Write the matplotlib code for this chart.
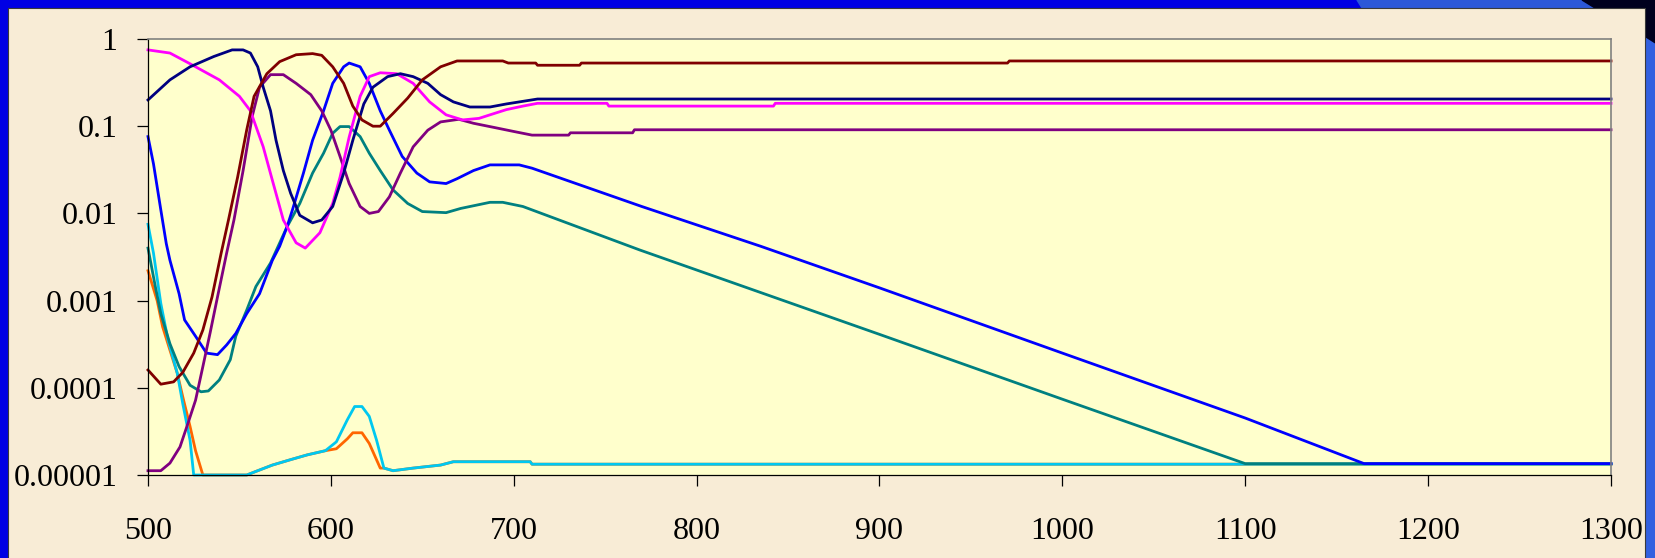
import numpy as np
import matplotlib
matplotlib.use("Agg")
import matplotlib.pyplot as plt
from matplotlib.patches import Rectangle, Polygon

plt.rcParams['font.family'] = ['Liberation Serif', 'DejaVu Serif']

# wavelength (nm) / transmission, one pair per curve
maroon_x = [500, 507, 514, 519, 525, 530, 535, 540, 544, 549, 554, 558, 565, 572, 581, 590, 595,
            601, 607, 612, 617, 623, 627, 634, 642, 650, 660, 669, 694, 697, 712, 713, 736, 737,
            970, 971, 1300]
maroon_y = [1.6e-4, 1.1e-4, 1.17e-4, 1.5e-4, 2.5e-4, 4.6e-4, 1.1e-3, 3.5e-3, 8.4e-3, 0.026, 0.091,
            0.22, 0.40, 0.55, 0.66, 0.68, 0.65, 0.48, 0.31, 0.17, 0.118, 0.10, 0.10, 0.14, 0.21,
            0.34, 0.48, 0.56, 0.56, 0.53, 0.53, 0.50, 0.50, 0.53, 0.53, 0.56, 0.56]

navy_x = [500, 512, 523, 536, 546, 552, 556, 560, 563, 567, 570, 574, 578, 583, 590, 595, 601,
          607, 612, 618, 623, 631, 638, 645, 653, 660, 667, 676, 687, 696, 713, 1300]
navy_y = [0.20, 0.34, 0.48, 0.63, 0.75, 0.75, 0.69, 0.48, 0.28, 0.15, 0.069, 0.031, 0.017, 0.0095,
          0.0078, 0.0084, 0.012, 0.029, 0.069, 0.18, 0.28, 0.37, 0.40, 0.37, 0.31, 0.23, 0.19,
          0.166, 0.166, 0.18, 0.205, 0.205]

magenta_x = [500, 512, 523, 539, 550, 556, 563, 568, 574, 581, 586, 594, 601, 605, 610, 616, 621,
             627, 636, 645, 654, 663, 672, 681, 687, 696, 705, 713, 751, 752, 842, 843, 1300]
magenta_y = [0.75, 0.69, 0.52, 0.34, 0.22, 0.15, 0.058, 0.024, 0.0084, 0.0046, 0.004, 0.006, 0.013,
             0.026, 0.075, 0.22, 0.37, 0.41, 0.40, 0.31, 0.19, 0.135, 0.118, 0.123, 0.135, 0.155,
             0.17, 0.183, 0.183, 0.17, 0.17, 0.183, 0.183]

purple_x = [500, 507, 512, 517.5, 522, 526, 530, 534, 538, 543, 547, 552, 557, 561, 567, 574, 581,
            589, 595, 600, 605, 610, 616, 621, 626, 632, 638, 645, 653, 660, 670, 678, 689, 700,
            710, 730, 731, 765, 766, 1300]
purple_y = [1.12e-5, 1.12e-5, 1.37e-5, 2.1e-5, 4e-5, 7.2e-5, 1.75e-4, 4.3e-4, 1.1e-3, 3.5e-3, 8.4e-3,
            0.031, 0.13, 0.28, 0.39, 0.39, 0.31, 0.23, 0.15, 0.09, 0.045, 0.022, 0.012, 0.010,
            0.0105, 0.0155, 0.029, 0.058, 0.09, 0.112, 0.12, 0.108, 0.097, 0.087, 0.079, 0.079,
            0.084, 0.084, 0.091, 0.091]

blue_x = [500, 503, 507, 510, 512, 517, 520, 526, 532, 538, 543, 548, 554, 561, 568, 572, 576, 579,
          585, 590, 596, 601, 607, 610, 616, 621, 627, 632, 639, 647, 654, 663, 669, 678, 687, 703,
          710, 770, 835, 900, 1000, 1100, 1165, 1300]
blue_y = [0.076, 0.037, 0.011, 0.0045, 0.0029, 0.0012, 6e-4, 3.9e-4, 2.5e-4, 2.4e-4, 3.1e-4, 4.2e-4,
          7.1e-4, 1.2e-3, 2.9e-3, 4.2e-3, 7e-3, 0.011, 0.029, 0.069, 0.15, 0.31, 0.48, 0.53, 0.48,
          0.31, 0.15, 0.09, 0.045, 0.029, 0.023, 0.022, 0.025, 0.031, 0.036, 0.036, 0.033, 0.012,
          0.0042, 1.4e-3, 2.5e-4, 4.5e-5, 1.35e-5, 1.35e-5]

teal_x = [500, 504, 507, 512, 517, 523, 529, 533, 539, 545, 548, 554, 559, 567, 576, 583, 590, 596,
          601, 605, 610, 616, 621, 627, 634, 642, 650, 663, 671, 687, 694, 705, 769, 900, 1000,
          1100, 1300]
teal_y = [4e-3, 1.45e-3, 7.1e-4, 3.2e-4, 1.75e-4, 1.07e-4, 9e-5, 9.2e-5, 1.23e-4, 2.1e-4, 3.9e-4,
          7.8e-4, 1.45e-3, 2.7e-3, 7e-3, 0.013, 0.029, 0.049, 0.083, 0.099, 0.099, 0.076, 0.049,
          0.031, 0.0186, 0.013, 0.0105, 0.0102, 0.0114, 0.0134, 0.0134, 0.012, 0.0038, 4.1e-4,
          7.4e-5, 1.35e-5, 1.35e-5]

cyan_x = [500, 503, 507, 511, 516, 519, 523, 525, 554, 560, 568, 578, 587, 597, 603, 609, 613, 617,
          621, 625, 629, 634, 645, 660, 667, 709, 710, 1300]
cyan_y = [7.5e-3, 3.5e-3, 9.3e-4, 3.5e-4, 1.47e-4, 6.6e-5, 2.5e-5, 1e-5, 1e-5, 1.12e-5, 1.3e-5,
          1.5e-5, 1.7e-5, 1.9e-5, 2.4e-5, 4.3e-5, 6.1e-5, 6.1e-5, 4.7e-5, 2.5e-5, 1.2e-5, 1.12e-5,
          1.2e-5, 1.3e-5, 1.42e-5, 1.42e-5, 1.33e-5, 1.33e-5]

orange_x = [500, 505, 508, 512, 516, 519, 523, 526, 530, 554, 560, 568, 578, 587, 597, 603, 609,
            612, 617, 621, 627, 629, 634, 645, 660, 667, 709, 710, 1300]
orange_y = [2.2e-3, 1e-3, 5e-4, 2.7e-4, 1.47e-4, 7.9e-5, 3.6e-5, 1.9e-5, 1e-5, 1e-5, 1.12e-5,
            1.3e-5, 1.5e-5, 1.7e-5, 1.9e-5, 2e-5, 2.6e-5, 3.05e-5, 3.05e-5, 2.3e-5, 1.2e-5, 1.2e-5,
            1.12e-5, 1.2e-5, 1.3e-5, 1.42e-5, 1.42e-5, 1.33e-5, 1.33e-5]

x_ticks = [500, 600, 700, 800, 900, 1000, 1100, 1200, 1300]
y_ticks = [1e-5, 1e-4, 1e-3, 1e-2, 1e-1, 1]
y_tick_labels = ['0.00001', '0.0001', '0.001', '0.01', '0.1', '1']

W, H = 1656, 558
fig = plt.figure(figsize=(W / 100, H / 100), dpi=100)

# slide background (pixel coords, y pointing down)
bg = fig.add_axes([0, 0, 1, 1])
bg.axis('off')
bg.add_patch(Rectangle((0, 0), W, H, color='#0000e4'))
grad = np.linspace(0, 1, 256)[None, :, None]
top_c = (1 - grad) * np.array([0.0, 0.0, 0.80]) + grad * np.array([0.0, 0.0, 0.22])
bg.imshow(top_c, extent=(0, W, 8, 0), aspect='auto')
bg.add_patch(Polygon([(1357, 0), (1582, 0), (1595, 8), (1362, 8)], color='#2c58d8'))
bg.add_patch(Polygon([(1582, 0), (W, 0), (W, 45), (1645, 38), (1595, 8)], color='#00001e'))
bg.add_patch(Polygon([(1645, 38), (W, 45), (W, H), (1645, H)], color='#3260e0'))
bg.add_patch(Rectangle((8, 8), 1637, H, facecolor='#f8ecd6', edgecolor='#3a3a3a', lw=0.8))
bg.set_xlim(0, W)
bg.set_ylim(H, 0)

ax = fig.add_axes([148 / W, 1 - 475 / H, (1611 - 148) / W, (475 - 39) / H])
ax.set_facecolor('#ffffcc')

series = [
    (orange_x, orange_y, '#ff6600'),
    (cyan_x, cyan_y, '#00c8f0'),
    (teal_x, teal_y, '#008080'),
    (blue_x, blue_y, '#0000ff'),
    (purple_x, purple_y, '#800080'),
    (magenta_x, magenta_y, '#ff00ff'),
    (navy_x, navy_y, '#000080'),
    (maroon_x, maroon_y, '#800000'),
]
for xs, ys, c in series:
    ax.plot(xs, ys, color=c, lw=2.0, clip_on=False)

ax.set_yscale('log')
ax.set_xlim(500, 1300)
ax.set_ylim(1e-5, 1)
ax.set_xticks(x_ticks)
ax.set_xticklabels([str(v) for v in x_ticks])
ax.set_yticks(y_ticks)
ax.set_yticklabels(y_tick_labels)
ax.minorticks_off()
ax.tick_params(axis='both', direction='out', length=8, width=0.9, colors='black',
               labelsize=23)
ax.tick_params(axis='y', pad=14)
ax.tick_params(axis='x', pad=22)
for s in ['left', 'bottom']:
    ax.spines[s].set_color('black')
    ax.spines[s].set_linewidth(0.9)
for s in ['top', 'right']:
    ax.spines[s].set_color('#808080')
    ax.spines[s].set_linewidth(1.2)

fig.savefig('out.png', dpi=100)
